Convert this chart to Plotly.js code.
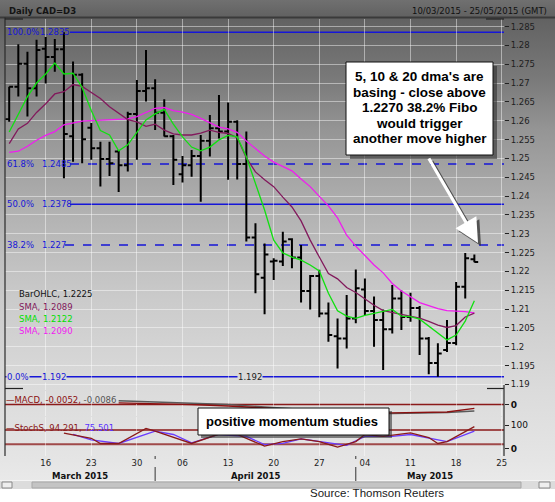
<!DOCTYPE html>
<html><head><meta charset="utf-8">
<script src="https://cdn.plot.ly/plotly-3.0.1.min.js"></script>
<style>
html,body{margin:0;padding:0;background:#fff;}
#wrap{position:relative;width:555px;height:502px;overflow:hidden;
background:linear-gradient(to bottom,#707070 0px,#626262 16px,#3a3a3a 17px,#3a3a3a 18px,#626262 19px,#7a7a7a 80px,#959595 130px,#b4b4b4 220px,#cbcbcb 300px,#dbdbdb 390px,#e5e5e5 460px,#e9e9e9 480px,#ffffff 481px,#ffffff 502px);}
#chart{position:absolute;left:0;top:0;width:555px;height:502px;}
</style></head>
<body><div id="wrap"><div id="chart"></div></div>
<script>
// ---------------- DATA ----------------
const idx = [0,1,2,3,4,5,6,7,8,9,10,11,12,13,14,15,16,17,18,19,20,21,22,23,24,25,26,27,28,29,30,31,32,33,34,35,36,37,38,39,40,41,42,43,44,45,46,47,48,49,50,51];
const open = [1.2604,1.2690,1.2751,1.2686,1.2791,1.2769,1.2790,1.2559,1.2722,1.2581,1.2527,1.2498,1.2518,1.2482,1.2618,1.2679,1.2686,1.2621,1.2559,1.2458,1.2482,1.2506,1.2547,1.2580,1.2571,1.2597,1.2485,1.2290,1.2183,1.2226,1.2226,1.2285,1.2237,1.2148,1.2188,1.2088,1.2028,1.2022,1.2075,1.2152,1.2095,1.2071,1.2046,1.2128,1.2079,1.2103,1.2022,1.1957,1.1991,1.2010,1.2159,1.2232];
const high = [1.2690,1.2803,1.2783,1.2815,1.2822,1.2817,1.2835,1.2757,1.2726,1.2594,1.2544,1.2544,1.2522,1.2624,1.2708,1.2788,1.2710,1.2657,1.2562,1.2506,1.2522,1.2562,1.2615,1.2668,1.2648,1.2601,1.2571,1.2328,1.2274,1.2235,1.2305,1.2288,1.2270,1.2190,1.2204,1.2117,1.2075,1.2137,1.2205,1.2181,1.2133,1.2099,1.2164,1.2149,1.2143,1.2108,1.2026,1.2009,1.2071,1.2172,1.2249,1.2245];
const low = [1.2597,1.2664,1.2611,1.2664,1.2699,1.2730,1.2447,1.2491,1.2487,1.2496,1.2425,1.2453,1.2411,1.2465,1.2496,1.2651,1.2575,1.2558,1.2429,1.2436,1.2451,1.2385,1.2505,1.2553,1.2443,1.2444,1.2279,1.2142,1.2086,1.2177,1.2214,1.2208,1.2117,1.2099,1.2078,1.2013,1.1942,1.1995,1.2062,1.2084,1.2000,1.1938,1.2035,1.2044,1.2066,1.1978,1.1927,1.1920,1.1986,1.2004,1.2128,1.2224];
const close = [1.2690,1.2751,1.2686,1.2788,1.2769,1.2790,1.2565,1.2722,1.2551,1.2527,1.2498,1.2487,1.2482,1.2618,1.2679,1.2686,1.2621,1.2559,1.2496,1.2482,1.2506,1.2547,1.2580,1.2571,1.2597,1.2485,1.2290,1.2192,1.2245,1.2228,1.2279,1.2237,1.2148,1.2188,1.2088,1.2031,1.2022,1.2075,1.2155,1.2095,1.2071,1.2046,1.2128,1.2079,1.2103,1.2022,1.1957,1.1982,1.2010,1.2159,1.2235,1.2225];
const sma5 = [1.2570,1.2615,1.2664,1.2700,1.2724,1.2753,1.2724,1.2726,1.2688,1.2627,1.2574,1.2562,1.2520,1.2536,1.2570,1.2602,1.2618,1.2630,1.2591,1.2557,1.2530,1.2520,1.2530,1.2549,1.2561,1.2557,1.2504,1.2432,1.2363,1.2283,1.2249,1.2238,1.2230,1.2217,1.2201,1.2142,1.2095,1.2081,1.2075,1.2083,1.2089,1.2095,1.2099,1.2081,1.2080,1.2073,1.2055,1.2036,1.2018,1.2031,1.2068,1.2122];
const sma10 = [1.2539,1.2578,1.2593,1.2622,1.2645,1.2671,1.2677,1.2696,1.2691,1.2674,1.2659,1.2637,1.2619,1.2603,1.2597,1.2585,1.2591,1.2575,1.2565,1.2562,1.2562,1.2567,1.2575,1.2569,1.2566,1.2555,1.2501,1.2464,1.2443,1.2425,1.2397,1.2371,1.2334,1.2283,1.2238,1.2194,1.2180,1.2157,1.2144,1.2126,1.2110,1.2096,1.2091,1.2085,1.2080,1.2076,1.2067,1.2057,1.2051,1.2056,1.2079,1.2089];
const sma20 = [1.2516,1.2519,1.2532,1.2548,1.2561,1.2571,1.2589,1.2595,1.2599,1.2600,1.2601,1.2603,1.2603,1.2605,1.2611,1.2621,1.2633,1.2635,1.2627,1.2623,1.2617,1.2606,1.2594,1.2583,1.2578,1.2569,1.2546,1.2526,1.2506,1.2490,1.2478,1.2467,1.2445,1.2425,1.2399,1.2374,1.2342,1.2296,1.2267,1.2243,1.2217,1.2196,1.2168,1.2148,1.2132,1.2117,1.2109,1.2101,1.2096,1.2095,1.2093,1.2090];
const macdIdx = [12,16,20,24,28,34,38,42,45,48,51];
const macdLine = [0.0022,0.0012,-0.0002,-0.0020,-0.0045,-0.0100,-0.0120,-0.0112,-0.0106,-0.0100,-0.0052];
const macdSignal = [0.0050,0.0035,0.0015,0.0000,-0.0033,-0.0080,-0.0110,-0.0119,-0.0112,-0.0106,-0.0086];
const stochKIdx = [6,9,10,12,15,16,20,23,25,28,30,32,34,36,38,39,41,44,46,47,48,51];
const stochK = [67,45,23,23,87,75,23,63,61,12,31,42,31,8,31,61,53,68,48,23,31,94.291];
const stochDIdx = [7,9,12,16,18,20,23,26,28,30,32,35,37,39,42,44,46,48,51];
const stochD = [61,38,23,75,61,26,61,53,18,23,42,26,15,53,53,61,45,31,75.501];
const weekIdx = [4,9,14,19,24,29,34,39,44,49,54];
const weekLabels = ['16','23','30','06','13','20','27','04','11','18','25'];
const monthNames = ['March 2015','April 2015','May 2015'];
const monthStartIdx = [16,38];
const fibPct = ['100.0%','61.8%','50.0%','38.2%','0.0%'];
const fibVal = [1.2835,1.2485,1.2378,1.227,1.192];
const fibText = ['1.2835','1.2485','1.2378','1.227','1.192'];
const priceTicks = [1.285,1.28,1.275,1.27,1.265,1.26,1.255,1.25,1.245,1.24,1.235,1.23,1.225,1.22,1.215,1.21,1.205,1.2,1.195,1.19];
const priceTickText = ['1.285','1.28','1.275','1.27','1.265','1.26','1.255','1.25','1.245','1.24','1.235','1.23','1.225','1.22','1.215','1.21','1.205','1.2','1.195','1.19'];
const noteLines = ["5, 10 & 20 dma's are","basing - close above","1.2270 38.2% Fibo","would trigger","another move higher"];
const noteMomentum = 'positive momentum studies';

// ---------------- LAYOUT HELPERS ----------------
const L=5,R=504,T=19,B=456, W=555, H=502;
const px=p=>(p-L)/(R-L), py=p=>(B-p)/(B-T);
const F='DejaVu Sans', FA='Liberation Sans';
const last=a=>a[a.length-1];
const XR=[-0.46,54.25];
const C_GREEN='#10e010', C_PURP='#82195c', C_MAG='#f01cf0', C_FIB='#1616d8';

const traces=[
 {type:'ohlc',x:idx,open:open,high:high,low:low,close:close,xaxis:'x',yaxis:'y',
  increasing:{line:{color:'#000',width:2}},decreasing:{line:{color:'#000',width:2}},
  tickwidth:0.42,hoverinfo:'skip',showlegend:false},
 {type:'scatter',mode:'lines',x:idx,y:sma20,line:{color:C_MAG,width:1.3},xaxis:'x',yaxis:'y',hoverinfo:'skip',showlegend:false},
 {type:'scatter',mode:'lines',x:idx,y:sma10,line:{color:C_PURP,width:1.3},xaxis:'x',yaxis:'y',hoverinfo:'skip',showlegend:false},
 {type:'scatter',mode:'lines',x:idx,y:sma5,line:{color:C_GREEN,width:1.3},xaxis:'x',yaxis:'y',hoverinfo:'skip',showlegend:false},
 {type:'scatter',mode:'markers',x:[54.7,54.7,54.7],y:[last(close),last(sma5),last(sma20)],cliponaxis:false,
  marker:{symbol:'diamond',size:7,color:['#000',C_GREEN,C_MAG]},xaxis:'x',yaxis:'y',hoverinfo:'skip',showlegend:false},
 {type:'scatter',mode:'lines',x:macdIdx,y:macdSignal,line:{color:'#5a5a5a',width:1.4},xaxis:'x',yaxis:'y2',hoverinfo:'skip',showlegend:false},
 {type:'scatter',mode:'lines',x:macdIdx,y:macdLine,line:{color:'#8b1010',width:1.4},xaxis:'x',yaxis:'y2',hoverinfo:'skip',showlegend:false},
 {type:'scatter',mode:'markers',x:[54.7,54.7],y:[last(macdLine),last(macdSignal)],cliponaxis:false,
  marker:{symbol:'diamond',size:6,color:['#8b1010','#111']},xaxis:'x',yaxis:'y2',hoverinfo:'skip',showlegend:false},
 {type:'scatter',mode:'lines',x:stochDIdx,y:stochD,line:{color:'#6a3cff',width:1.3},xaxis:'x',yaxis:'y3',hoverinfo:'skip',showlegend:false},
 {type:'scatter',mode:'lines',x:stochKIdx,y:stochK,line:{color:'#8b1a1a',width:1.3},xaxis:'x',yaxis:'y3',hoverinfo:'skip',showlegend:false},
 {type:'scatter',mode:'markers',x:[54.7,54.7],y:[last(stochK),last(stochD)],cliponaxis:false,
  marker:{symbol:'diamond',size:6,color:['#8b1a1a','#5a3cff']},xaxis:'x',yaxis:'y3',hoverinfo:'skip',showlegend:false}
];

const shapes=[];
const ann=[];
function pline(x0,y0,x1,y1,color,width,layer){shapes.push({type:'line',xref:'paper',yref:'paper',x0:px(x0),y0:py(y0),x1:px(x1),y1:py(y1),line:{color:color,width:width||1},layer:layer||'above'});}
function prect(x0,y0,x1,y1,fill,lineColor,lw,layer){shapes.push({type:'rect',xref:'paper',yref:'paper',x0:px(x0),y0:py(y0),x1:px(x1),y1:py(y1),fillcolor:fill,line:{color:lineColor||'rgba(0,0,0,0)',width:lw||0},layer:layer||'above'});}
function t(x,y,text,o){o=o||{};ann.push({xref:'paper',yref:'paper',x:px(x),y:py(y),text:text,showarrow:false,
  xanchor:o.xa||'left',yanchor:'middle',bgcolor:o.bg||'rgba(0,0,0,0)',borderpad:0,
  font:{family:o.f||F,size:o.s||8.5,color:o.c||'#141414'}});}

// Fibonacci levels
const fibStartPx=[70,70,70,65,5];
fibVal.forEach((v,i)=>{
  shapes.push({type:'line',xref:'paper',yref:'y',x0:px(fibStartPx[i]),x1:1,y0:v,y1:v,
    line:{color:C_FIB,width:1.5,dash:(i===1||i===3)?'dash':'solid'},layer:'below'});
  const bg=(i===4)?'#d9d9d9':'rgba(0,0,0,0)';
  ann.push({xref:'paper',yref:'y',x:px(6),y:v,text:fibPct[i],showarrow:false,xanchor:'left',yanchor:'middle',bgcolor:bg,borderpad:0,font:{family:F,size:8.5,color:C_FIB}});
  ann.push({xref:'paper',yref:'y',x:px(i===0?39:41),y:v,text:fibText[i],showarrow:false,xanchor:'left',yanchor:'middle',bgcolor:bg,borderpad:0,font:{family:F,size:8.5,color:C_FIB}});
});
ann.push({xref:'paper',yref:'y',x:px(237),y:fibVal[4],text:fibText[4],showarrow:false,xanchor:'left',yanchor:'middle',bgcolor:'#d9d9d9',borderpad:0,font:{family:F,size:8.5,color:'#222'}});

// MACD zero & stoch 80/20 lines
shapes.push({type:'line',xref:'paper',yref:'y2',x0:0,x1:1,y0:0,y1:0,line:{color:'#8b1a1a',width:1.5},layer:'below'});
[80,20].forEach(v=>shapes.push({type:'line',xref:'paper',yref:'y3',x0:0,x1:1,y0:v,y1:v,line:{color:'#a04a4a',width:2},layer:'below'}));

// frame
pline(5,17.5,5,456,'#2a2a2a',1.2);
pline(5,19,23,19,'#222',1.2);
pline(5,388.5,23,388.5,'#222',1.2);
pline(487,388.5,504,388.5,'#222',1.2);
pline(504,385,504,456,'#2a2a2a',1.2);
pline(486,19,504,19,'#222',1.2);
// title bar text
t(8,10.5,'<b>Daily CAD=D3</b>',{c:'#141414'});
t(548,11,'10/03/2015 - 25/05/2015 (GMT)',{xa:'right',c:'#111'});

// legend
t(18,294.3,'BarOHLC, '+last(close).toFixed(4),{c:'#111'});
t(18,306.7,'SMA, '+last(sma10).toFixed(4),{c:C_PURP});
t(18,319,'SMA, '+last(sma20===sma20?sma5:sma5).toFixed(4),{c:'#00e000'});
t(18,331,'SMA, '+last(sma20).toFixed(4),{c:C_MAG});
t(5,399.5,'<span style="color:#8b1010">—MACD, '+last(macdLine).toFixed(4)+', </span><span style="color:#555">'+last(macdSignal).toFixed(4)+'</span>',{s:8.5});
t(5,427.5,'<span style="color:#8b1a1a">—StochS, '+last(stochK).toFixed(3)+', </span><span style="color:#5a32ff">'+last(stochD).toFixed(3)+'</span>',{s:8.5});

// note box 1 + arrow
ann.push({xref:'paper',yref:'paper',x:px(481),y:py(246),ax:-50,ay:-86,text:'',showarrow:true,arrowhead:2,arrowsize:1.5,arrowwidth:3.2,arrowcolor:'rgba(50,50,50,0.75)'});
ann.push({xref:'paper',yref:'paper',x:px(478),y:py(243),ax:-50,ay:-86,text:'',showarrow:true,arrowhead:2,arrowsize:1.5,arrowwidth:3.2,arrowcolor:'#ffffff'});
prect(350,66,497,159,'rgba(40,40,40,0.55)');
prect(346,62,493,155,'#ffffff','#111',1);
const lineY=[76,92,107.5,123,138.5];
noteLines.forEach((s,i)=>t(419.5,lineY[i],'<b>'+s+'</b>',{xa:'center',f:FA,s:13.5,c:'#000'}));
// note box 2
prect(201,411,392,438,'rgba(40,40,40,0.55)');
prect(198,408,389,435,'#ffffff','#111',1);
t(292,421.5,'<b>'+noteMomentum+'</b>',{xa:'center',f:FA,s:13,c:'#000'});

// month labels & separators
const monthBounds=[XR[0]].concat(monthStartIdx,[XR[1]]);
monthNames.forEach((m,i)=>{
  const mid=(monthBounds[i]+monthBounds[i+1])/2;
  ann.push({xref:'x',yref:'paper',x:mid,y:py(476.5),text:'<b>'+m+'</b>',showarrow:false,xanchor:'center',yanchor:'middle',font:{family:F,size:8.5,color:'#111'}});
});
monthStartIdx.forEach(m=>{
  shapes.push({type:'line',xref:'x',yref:'paper',x0:m,x1:m,y0:py(467),y1:py(481),line:{color:'#333',width:1},layer:'above'});
  shapes.push({type:'line',xref:'x',yref:'paper',x0:m,x1:m,y0:py(456),y1:py(459),line:{color:'#333',width:1},layer:'above'});
});

// scrollbar + source
prect(0,481,555,489,'#dcdcdc');
prect(32,482,521,488,'#c4c4c4','#a8a8a8',1);
prect(2,482,12,488,'#eeeeee','#888',1);
prect(539,482,550,488,'#eeeeee','#888',1);
t(309,493.5,'Source: Thomson Reuters',{f:FA,s:11.5,c:'#1a1a1a'});

const GRID='rgba(255,255,255,0.45)';
const layout={
  width:W,height:H,margin:{l:L,r:W-R,t:T,b:H-B,autoexpand:false},
  paper_bgcolor:'rgba(0,0,0,0)',plot_bgcolor:'rgba(0,0,0,0)',showlegend:false,
  xaxis:{domain:[0,1],range:XR,anchor:'y3',tickmode:'array',tickvals:weekIdx,ticktext:weekLabels,
    showgrid:true,gridcolor:GRID,gridwidth:1,zeroline:false,showline:false,ticks:'',
    tickfont:{family:F,size:8.5,color:'#1e1e1e'},rangeslider:{visible:false},fixedrange:true},
  yaxis:{domain:[py(390),1],range:[1.1885,1.2870],side:'right',anchor:'x',tickmode:'array',tickvals:priceTicks,ticktext:priceTickText,
    showgrid:true,gridcolor:GRID,gridwidth:1,zeroline:false,showline:false,ticks:'outside',ticklen:4,tickcolor:'#222',
    tickfont:{family:F,size:8.5,color:'#1e1e1e'}},
  yaxis2:{domain:[py(416),py(391)],range:[-0.01533,0.018],side:'right',anchor:'x',tickmode:'array',tickvals:[0],ticktext:['<b>0</b>'],
    showgrid:false,zeroline:false,showline:false,ticks:'outside',ticklen:4,tickcolor:'#222',tickfont:{family:F,size:9,color:'#111'}},
  yaxis3:{domain:[0,py(417)],range:[-29.9,134.9],side:'right',anchor:'x',tickmode:'array',tickvals:[0,100],ticktext:['<b>0</b>','100'],
    showgrid:false,zeroline:false,showline:false,ticks:'outside',ticklen:4,tickcolor:'#222',tickfont:{family:F,size:9,color:'#111'}},
  shapes:shapes,annotations:ann
};
Plotly.newPlot('chart',traces,layout,{staticPlot:true,displayModeBar:false});
</script></body></html>
